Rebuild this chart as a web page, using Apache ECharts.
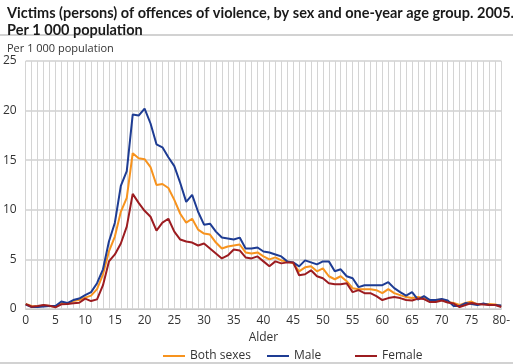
<!DOCTYPE html>
<html><head><meta charset="utf-8">
<script src="https://cdn.jsdelivr.net/npm/echarts@6/dist/echarts.min.js"></script>
<style>html,body{margin:0;padding:0;background:#fff}#c{width:513px;height:364px}</style>
</head><body><div id="c"></div>
<script>
const ages = [];
for (let i = 0; i < 80; i++) ages.push(String(i));
ages.push('80-');
const titleLine1 = 'Victims (persons) of offences of violence, by sex and one-year age group. 2005.';
const titleLine2 = 'Per 1 000 population';
const yUnit = 'Per 1 000 population';
const xName = 'Alder';
const yTicks = [0, 5, 10, 15, 20, 25];
const bothSexes = [0.5,0.3,0.25,0.35,0.3,0.25,0.6,0.5,0.8,0.9,1.15,1.35,2.0,3.5,5.8,7.3,9.8,11.2,15.7,15.2,15.1,14.3,12.5,12.6,12.2,11.0,9.6,8.7,9.1,8.0,7.6,7.5,6.7,6.1,6.3,6.4,6.5,5.7,5.6,5.7,5.3,5.0,5.2,4.9,4.8,4.6,3.8,4.2,4.3,3.8,4.1,3.3,3.0,3.3,2.8,2.1,2.0,2.0,2.0,1.9,1.6,2.0,1.6,1.4,1.2,1.1,1.2,1.1,0.9,0.9,0.95,0.7,0.6,0.4,0.6,0.75,0.45,0.5,0.5,0.45,0.3];
const male = [0.45,0.2,0.2,0.25,0.3,0.3,0.75,0.6,0.9,1.05,1.4,1.7,2.6,4.0,6.8,8.7,12.4,13.9,19.6,19.5,20.2,18.7,16.6,16.3,15.3,14.4,12.7,10.8,11.5,9.8,8.5,8.6,7.8,7.2,7.1,7.0,7.2,6.1,6.1,6.2,5.8,5.7,5.5,5.3,4.8,4.7,4.3,4.9,4.7,4.5,4.8,4.8,3.8,4.0,3.3,3.1,2.2,2.4,2.4,2.4,2.4,2.7,2.1,1.7,1.35,1.7,0.95,1.3,0.9,0.9,1.0,0.85,0.3,0.3,0.6,0.5,0.4,0.55,0.4,0.4,0.35];
const female = [0.5,0.23,0.3,0.4,0.33,0.17,0.47,0.5,0.57,0.63,1.05,0.8,0.97,2.4,4.8,5.5,6.6,8.3,11.6,10.7,9.9,9.3,7.9,8.7,9.1,7.8,7.0,6.8,6.7,6.4,6.6,6.1,5.6,5.1,5.4,6.0,5.9,5.2,5.1,5.3,4.8,4.3,4.8,4.6,4.7,4.7,3.4,3.5,3.9,3.3,3.1,2.6,2.5,2.5,2.6,1.7,1.9,1.6,1.6,1.3,0.9,1.1,1.2,1.1,0.9,0.85,1.05,1.0,0.7,0.7,0.85,0.65,0.55,0.2,0.4,0.6,0.5,0.45,0.4,0.4,0.2];
const seriesNames = ['Both sexes', 'Male', 'Female'];
const colors = ['#f7931e', '#1e3c93', '#9c1c20'];

const FONT = 'Open Sans';
const chart = echarts.init(document.getElementById('c'), null, {renderer: 'canvas'});
const mkLegend = (name, left) => ({
  data: [name], left: left, top: 345, icon: 'rect', itemWidth: 22, itemHeight: 2,
  itemGap: 4, textStyle: {fontFamily: FONT, fontSize: 12, color: '#333'}
});
chart.setOption({
  animation: false,
  textStyle: {fontFamily: FONT},
  title: [
    {text: titleLine1 + '\n' + titleLine2, left: 2, top: 0,
     textStyle: {fontFamily: 'Lato', fontSize: 14.5, fontWeight: 'bold', color: '#1a1a1a', lineHeight: 17}},
    {text: yUnit, left: 2, top: 38, textStyle: {fontFamily: FONT, fontSize: 11, fontWeight: 'normal', color: '#333'}}
  ],
  graphic: [
    {type: 'rect', shape: {x: 0, y: 34, width: 513, height: 2}, style: {fill: '#d2d2d2'}},
    {type: 'rect', shape: {x: 0, y: 362, width: 513, height: 2}, style: {fill: '#d2d2d2'}}
  ],
  legend: [mkLegend('Both sexes', 158), mkLegend('Male', 262), mkLegend('Female', 350)],
  grid: {left: 24, right: 9, top: 61, bottom: 55},
  xAxis: {
    type: 'category', data: ages, boundaryGap: false,
    name: xName, nameLocation: 'middle', nameGap: 22,
    nameTextStyle: {fontFamily: FONT, fontSize: 12, color: '#333'},
    axisLine: {lineStyle: {color: '#c8c8c8', width: 1}},
    axisTick: {show: false},
    axisLabel: {interval: 4, fontFamily: FONT, fontSize: 12, color: '#333', margin: 6},
    splitLine: {show: true, interval: 0, lineStyle: {color: '#d4d4d4', width: 1}}
  },
  yAxis: {
    type: 'value', min: 0, max: 25, interval: 5,
    axisLine: {show: false}, axisTick: {show: false},
    axisLabel: {fontFamily: FONT, fontSize: 12, color: '#333', margin: 9},
    splitLine: {show: true, lineStyle: {color: '#d0d0d0', width: 1.5}}
  },
  series: [bothSexes, male, female].map((d, i) => ({
    name: seriesNames[i], type: 'line', data: d, showSymbol: false, symbol: 'none',
    lineStyle: {color: colors[i], width: 2}, itemStyle: {color: colors[i]}, z: 3 + i
  }))
});
</script></body></html>
